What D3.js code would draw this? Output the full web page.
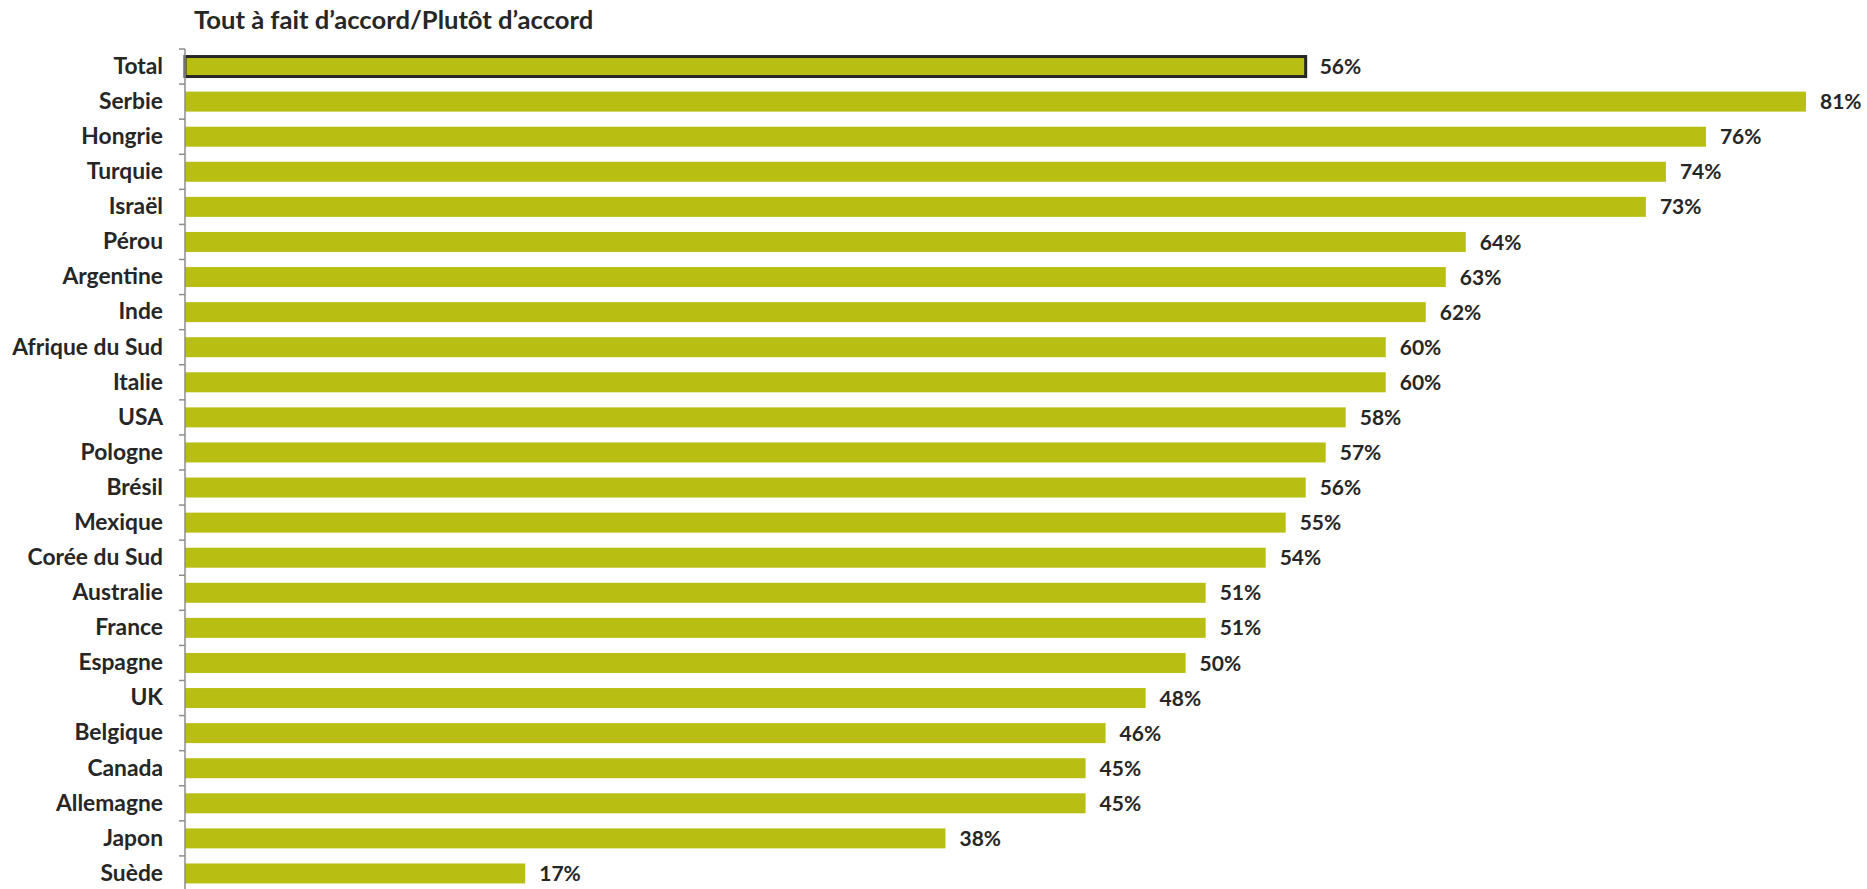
<!DOCTYPE html>
<html><head><meta charset="utf-8">
<script src="https://cdn.jsdelivr.net/npm/d3@7"></script>
<style>
html,body{margin:0;padding:0;background:#fff;}
svg{display:block;}
text{font-family:Lato,"Open Sans",sans-serif;font-weight:700;fill:#262626;}
</style></head>
<body>
<svg id="chart" width="1867" height="889"></svg>
<script>
const title = "Tout à fait d’accord/Plutôt d’accord";
const categories = ["Total","Serbie","Hongrie","Turquie","Israël","Pérou","Argentine","Inde","Afrique du Sud","Italie","USA","Pologne","Brésil","Mexique","Corée du Sud","Australie","France","Espagne","UK","Belgique","Canada","Allemagne","Japon","Suède"];
const values = [56,81,76,74,73,64,63,62,60,60,58,57,56,55,54,51,51,50,48,46,45,45,38,17];
const valueLabels = values.map(v => v + "%");

const svg = d3.select("#chart");
const x0 = 185;
const x = d3.scaleLinear().domain([0, 81]).range([x0, 1806]);
const y = d3.scaleBand().domain(categories).range([49, 891]).paddingInner(0.43).paddingOuter(0.215);
const step = y.step();

svg.append("text").attr("x", 194).attr("y", 29).attr("font-size", 25.6).text(title);

// bars
svg.append("g").selectAll("rect").data(categories).join("rect")
  .attr("x", x(0))
  .attr("y", d => y(d))
  .attr("width", (d,i) => x(values[i]) - x(0))
  .attr("height", y.bandwidth())
  .attr("fill", "#B8BF12")
  .attr("stroke", (d,i) => i === 0 ? "#262626" : "none")
  .attr("stroke-width", 3);

// value labels
svg.append("g").selectAll("text").data(categories).join("text")
  .attr("x", (d,i) => x(values[i]) + 14)
  .attr("y", d => y(d) + y.bandwidth()/2)
  .attr("dy", "0.36em")
  .attr("font-size", 21)
  .text((d,i) => valueLabels[i]);

// axis
const axis = d3.axisLeft(y).tickSize(0).tickPadding(22);
const g = svg.append("g").attr("transform", `translate(${x0},0)`).call(axis);
g.select(".domain").remove();
g.selectAll("text").attr("font-size", 22.8).attr("font-family", "Lato,'Open Sans',sans-serif").attr("font-weight", 700).attr("fill", "#262626");

svg.append("line").attr("x1", x0).attr("x2", x0).attr("y1", y.range()[0]).attr("y2", 889)
  .attr("stroke", "#8c8c8c").attr("stroke-width", 1.5);
const bounds = categories.map(d => y(d) - step * y.paddingOuter());
svg.append("g").selectAll("line").data(bounds).join("line")
  .attr("x1", x0 - 6).attr("x2", x0).attr("y1", d => d).attr("y2", d => d)
  .attr("stroke", "#8c8c8c").attr("stroke-width", 1.5);
</script>
</body></html>
